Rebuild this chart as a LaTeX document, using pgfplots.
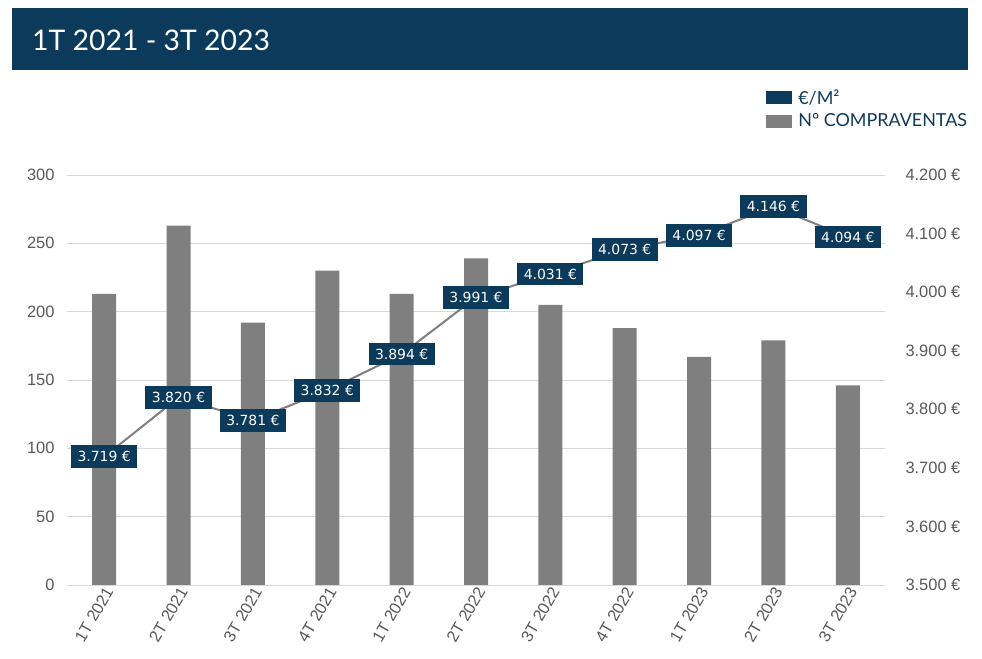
\documentclass[border=0pt]{standalone}
\usepackage{pgfplots}
\pgfplotsset{compat=1.18}
\usepackage{fontspec}
\setmainfont{Liberation Sans}
\newfontfamily\titlefont{Lato}
\newfontfamily\dlfont{DejaVu Sans}
\definecolor{dblue}{HTML}{0B3A5B}
\definecolor{bargray}{HTML}{7F7F7F}
\definecolor{ticklab}{HTML}{595959}
\definecolor{gridc}{HTML}{D9D9D9}
\begin{document}
\begin{tikzpicture}[x=1bp,y=1bp]
\path[use as bounding box] (0,0) rectangle (982,659);
\fill[dblue] (12,589) rectangle (968,651);
\node[anchor=west, text=white, font=\titlefont\fontsize{28.5}{34}\selectfont, inner sep=0pt] at (32,619) {1T 2021 - 3T 2023};

\begin{axis}[at={(67bp,74bp)}, anchor=south west, scale only axis,
  width=818bp, height=410bp,
  xmin=-0.5, xmax=10.5, ymin=0, ymax=300, ytick={0,50,...,300},
  xtick={0,...,10},
  xticklabels={1T 2021,2T 2021,3T 2021,4T 2021,1T 2022,2T 2022,3T 2022,4T 2022,1T 2023,2T 2023,3T 2023},
  axis x line*=bottom, axis y line*=left,
  y axis line style={draw=none}, x axis line style={draw=gridc, line width=0.75bp, -},
  major tick length=0pt,
  ymajorgrids, grid style={draw=gridc, line width=0.75bp},
  tick label style={font=\fontsize{16.5}{19}\selectfont, text=ticklab},
  yticklabel style={xshift=-9bp},
  xticklabel style={rotate=60, anchor=east, xshift=3bp, yshift=-6bp},
  /pgf/number format/assume math mode=true,
  ybar, bar width=24bp,
]
\addplot[fill=bargray, draw=none] coordinates {
(0,213) (1,263) (2,192) (3,230) (4,213) (5,239) (6,205) (7,188) (8,167) (9,179) (10,146)};
\end{axis}

\begin{axis}[at={(67bp,74bp)}, anchor=south west, scale only axis,
  width=818bp, height=410bp,
  xmin=-0.5, xmax=10.5, ymin=3500, ymax=4200, ytick={3500,3600,...,4200},
  axis y line*=right, axis x line=none,
  y axis line style={draw=none},
  major tick length=0pt,
  scaled y ticks=false,
  /pgf/number format/.cd, 1000 sep={.}, assume math mode=true, /pgfplots/.cd,
  yticklabel={\pgfmathprintnumber{\tick}~€},
  tick label style={font=\fontsize{16.5}{19}\selectfont, text=ticklab},
  yticklabel style={xshift=17bp},
  legend style={at={(0.8545,1.212)}, anchor=north west, draw=none, fill=none,
    font=\titlefont\fontsize{18}{21}\selectfont, text=dblue, row sep=5bp,
    inner sep=0pt, nodes={inner xsep=3bp, inner ysep=1.5bp}},
  legend cell align=left,
]
\addplot[draw=bargray, line width=2bp, no markers,
  point meta=y,
  nodes near coords={\pgfmathprintnumber{\pgfplotspointmeta}~€},
  every node near coord/.style={fill=dblue, text=white, anchor=center,
    font=\dlfont\fontsize{14}{16}\selectfont, inner xsep=6.5bp, inner ysep=6bp},
  legend image code/.code={\fill[dblue, draw=none] (0bp,-6.5bp) rectangle (26bp,6.5bp); \path[draw=none, fill=none] (29bp,0bp) circle (0.1bp);}]
coordinates {
(0,3719) (1,3820) (2,3781) (3,3832) (4,3894) (5,3991) (6,4031) (7,4073) (8,4097) (9,4146) (10,4094)};
\addlegendentry{€/M²}
\addlegendimage{legend image code/.code={\fill[bargray, draw=none] (0bp,-6.5bp) rectangle (26bp,6.5bp); \path[draw=none, fill=none] (29bp,0bp) circle (0.1bp);}}
\addlegendentry{Nº COMPRAVENTAS}
\end{axis}
\end{tikzpicture}
\end{document}
